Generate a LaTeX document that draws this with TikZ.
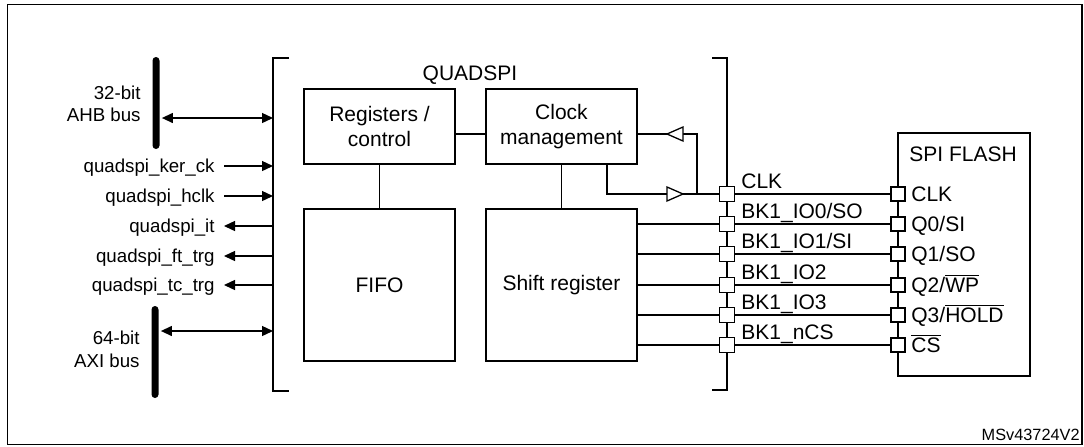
\documentclass[tikz,border=0pt]{standalone}
\usepackage{fontspec}
\setmainfont{Liberation Sans}
\usetikzlibrary{arrows.meta}
\newcommand\ovl[1]{$\overline{\hbox{#1}}$}
\begin{document}
\begin{tikzpicture}[x=0.5pt,y=-0.5pt,
 thinln/.style={line width=0.65pt},
 thickln/.style={line width=0.9pt},
 blk/.style={draw,line width=1pt,inner sep=0,minimum width=75.5pt,align=center,font=\fontsize{10.5}{12.5}\selectfont},
 pinsq/.style={draw,fill=white,line width=0.9pt,inner sep=0,minimum size=7.5pt},
 fpin/.style={draw,fill=white,line width=0.9pt,inner sep=0,minimum size=7pt},
 bus/.style={fill=black,inner sep=0,minimum width=3.5pt,rounded corners=1.75pt},
 sig/.style={inner xsep=4.5pt,inner ysep=0,text height=8pt,text depth=1.5pt,anchor=east,font=\fontsize{9.35}{11.2}\selectfont},
 arr/.style={thinln,-{Triangle[length=5.5pt,width=5pt]}},
 darr/.style={thinln,{Triangle[length=5.5pt,width=5pt]}-{Triangle[length=5.5pt,width=5pt]}},
 lbl/.style={inner sep=0,anchor=base west,font=\fontsize{10.5}{12.5}\selectfont},
 buslbl/.style={inner sep=0,anchor=east,align=right,font=\fontsize{9.35}{11.2}\selectfont},
]
\useasboundingbox (0,0) rectangle (1084,446);
% frame
\draw[thickln] (7.5,4.5) rectangle (1082,444.5);
% brackets
\coordinate (bl) at (273,58);
\coordinate (br) at (727,58);
\draw[thickln] (289,58) -- (bl) -- (273,391) -- (289,391);
\draw[thickln] (712,58) -- (br) -- (727,390) -- (712,390);
\node[lbl,anchor=base] (qs) at (470,80) {QUADSPI};
% blocks
\node[blk,minimum height=37.5pt] (reg) at (379.5,126.5) {Registers /\\control};
\node[blk,minimum height=37.5pt] (clk) at (561.5,126.5) {Clock\\management};
\node[blk,minimum height=76pt] (fifo) at (379.5,285) {FIFO};
\node[blk,minimum height=76pt] (shift) at (561.5,285) {Shift register};
\draw[thinln] ([yshift=-3.75pt]reg.east) -- ([yshift=-3.75pt]clk.west);
\draw[thinln] (reg) -- (fifo);
\draw[thinln] (clk) -- (shift);
% flash box
\node[draw,line width=1pt,minimum width=66pt,minimum height=121.5pt,inner sep=0] (flash) at (964,254.5) {};
\node[lbl] (fl) at (909,161) {SPI FLASH};
% pins on bracket
\node[pinsq] (pc0) at (727,194) {};
\node[pinsq] (pc1) at (727,224) {};
\node[pinsq] (pc2) at (727,254) {};
\node[pinsq] (pc3) at (727,285) {};
\node[pinsq] (pc4) at (727,315) {};
\node[pinsq] (pc5) at (727,345) {};
\node[lbl] (lc0) at (741,188) {CLK};
\node[lbl] (lc1) at (741,218) {BK1\_IO0/SO};
\node[lbl] (lc2) at (741,248) {BK1\_IO1/SI};
\node[lbl] (lc3) at (741,279) {BK1\_IO2};
\node[lbl] (lc4) at (741,309) {BK1\_IO3};
\node[lbl] (lc5) at (741,339) {BK1\_nCS};
% pins on flash
\node[fpin] (pf0) at (898,194) {};
\node[fpin] (pf1) at (898,224) {};
\node[fpin] (pf2) at (898,254) {};
\node[fpin] (pf3) at (898,285) {};
\node[fpin] (pf4) at (898,315) {};
\node[fpin] (pf5) at (898,345) {};
\node[lbl] (lf0) at (911,201.5) {CLK};
\node[lbl] (lf1) at (911,231.5) {Q0/SI};
\node[lbl] (lf2) at (911,261.5) {Q1/SO};
\node[lbl] (lf3) at (911,292.5) {Q2/\ovl{WP}};
\node[lbl] (lf4) at (911,322.5) {Q3/\ovl{HOLD}};
\node[lbl] (lf5) at (911,352.5) {\ovl{CS}};
% pin connections
\draw[thinln] (pc0.east) -- (pf0.west);
\draw[thinln] (pc1.east) -- (pf1.west);
\draw[thinln] (pc2.east) -- (pf2.west);
\draw[thinln] (pc3.east) -- (pf3.west);
\draw[thinln] (pc4.east) -- (pf4.west);
\draw[thinln] (pc5.east) -- (pf5.west);
\draw[thinln] (shift.east |- pc1) -- (pc1.west);
\draw[thinln] (shift.east |- pc2) -- (pc2.west);
\draw[thinln] (shift.east |- pc3) -- (pc3.west);
\draw[thinln] (shift.east |- pc4) -- (pc4.west);
\draw[thinln] (shift.east |- pc5) -- (pc5.west);
% clock buffers
\coordinate (bufAtip) at (667,134);
\coordinate (bufAbase) at (683,134);
\coordinate (jn) at (697,194);
\coordinate (bufBbase) at (667,194);
\coordinate (bufBtip) at (683,194);
\draw[thinln] ([yshift=-3.75pt]clk.east) -- (bufAtip);
\draw[thinln] (bufAbase) -| (jn);
\draw[thinln] ([xshift=22.75pt]clk.south) |- (bufBbase);
\draw[thinln] (bufBtip) -- (pc0.west);
\draw[thinln,fill=white] (bufAtip) -- (683,127) -- (683,141) -- cycle;
\draw[thinln,fill=white] (bufBtip) -- (667,187) -- (667,201) -- cycle;
% buses
\node[bus,minimum height=46pt] (ahb) at (156,103) {};
\node[bus,minimum height=46pt] (axi) at (155,352) {};
\node[buslbl] (ahbl) at (141,104) {32-bit\\AHB bus};
\node[buslbl] (axil) at (140,349.5) {64-bit\\AXI bus};
\coordinate (a1) at ([yshift=-7.5pt,xshift=1pt]ahb.east);
\coordinate (a2) at ([yshift=10.5pt,xshift=1pt]axi.east);
\draw[darr] (a1) -- (a1 -| bl);
\draw[darr] (a2) -- (a2 -| bl);
% signals
\node[sig] (sk) at (224,166) {quadspi\_ker\_ck};
\node[sig] (sh) at (224,196) {quadspi\_hclk};
\node[sig] (si) at (224,226) {quadspi\_it};
\node[sig] (sf) at (224,256) {quadspi\_ft\_trg};
\node[sig] (st) at (224,285) {quadspi\_tc\_trg};
\draw[arr] (sk.east) -- (sk.east -| bl);
\draw[arr] (sh.east) -- (sh.east -| bl);
\draw[arr] (si.east -| bl) -- (si.east);
\draw[arr] (sf.east -| bl) -- (sf.east);
\draw[arr] (st.east -| bl) -- (st.east);
\node[inner sep=0,anchor=base east,font=\fontsize{8.15}{9.8}\selectfont] (id) at (1080,440) {MSv43724V2};
\end{tikzpicture}
\end{document}
